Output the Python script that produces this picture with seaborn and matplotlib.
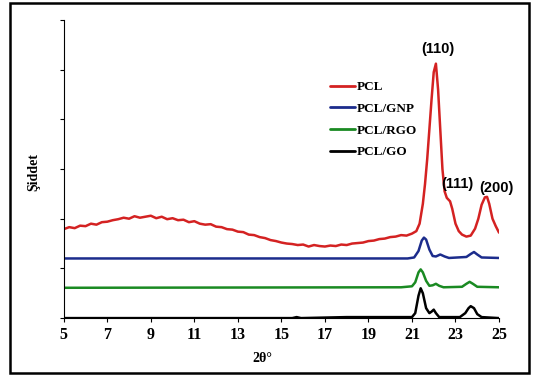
import matplotlib
matplotlib.use("Agg")
import matplotlib.pyplot as plt
from matplotlib.patches import Rectangle
import pandas as pd
import seaborn as sns

# XRD patterns (stacked, arbitrary intensity units)
pcl_x = [5.0, 5.25, 5.5, 5.75, 6.0, 6.25, 6.5, 6.75, 7.0, 7.25, 7.5, 7.75,
         8.0, 8.25, 8.5, 8.75, 9.0, 9.25, 9.5, 9.75, 10.0, 10.25, 10.5, 10.75,
         11.0, 11.25, 11.5, 11.75, 12.0, 12.25, 12.5, 12.75, 13.0, 13.25, 13.5,
         13.75, 14.0, 14.25, 14.5, 14.75, 15.0, 15.25, 15.5, 15.75, 16.0, 16.25,
         16.5, 16.75, 17.0, 17.25, 17.5, 17.75, 18.0, 18.25, 18.5, 18.75, 19.0,
         19.25, 19.5, 19.75, 20.0, 20.25, 20.5, 20.75, 21.0, 21.2, 21.35, 21.5,
         21.6, 21.7, 21.8, 21.9, 22.0, 22.1, 22.2, 22.3, 22.4, 22.5, 22.6, 22.75,
         22.85, 23.0, 23.15, 23.3, 23.5, 23.7, 23.9, 24.05, 24.2, 24.35, 24.45,
         24.55, 24.7, 24.85, 25.0]
pcl_y = [1.79, 1.83, 1.81, 1.86, 1.85, 1.90, 1.88, 1.93, 1.94, 1.97, 1.99, 2.02,
         2.00, 2.05, 2.02, 2.04, 2.06, 2.01, 2.04, 1.99, 2.01, 1.97, 1.98, 1.93,
         1.95, 1.90, 1.88, 1.89, 1.84, 1.83, 1.79, 1.78, 1.74, 1.73, 1.68,
         1.67, 1.63, 1.61, 1.57, 1.55, 1.52, 1.50, 1.49, 1.47, 1.48, 1.44,
         1.47, 1.45, 1.44, 1.46, 1.45, 1.48, 1.47, 1.50, 1.51, 1.52, 1.55,
         1.56, 1.59, 1.60, 1.63, 1.64, 1.67, 1.66, 1.70, 1.75, 1.90, 2.30,
         2.70, 3.20, 3.80, 4.40, 4.95, 5.12, 4.60, 3.80, 3.00, 2.55, 2.42, 2.35,
         2.20, 1.90, 1.75, 1.68, 1.64, 1.66, 1.80, 2.00, 2.28, 2.43, 2.44,
         2.30, 2.00, 1.85, 1.72]

gnp_x = [5.0, 20.8, 21.1, 21.3, 21.45, 21.55, 21.65, 21.8, 21.95, 22.1, 22.3,
         22.5, 22.7, 23.5, 23.7, 23.85, 24.0, 24.2, 25.0]
gnp_y = [1.20, 1.20, 1.22, 1.35, 1.56, 1.62, 1.58, 1.38, 1.25, 1.24, 1.28,
         1.24, 1.21, 1.23, 1.29, 1.33, 1.28, 1.22, 1.21]

rgo_x = [5.0, 20.5, 21.0, 21.15, 21.3, 21.4, 21.5, 21.65, 21.8, 21.95, 22.1,
         22.25, 22.45, 23.3, 23.5, 23.65, 23.8, 24.0, 25.0]
rgo_y = [0.61, 0.62, 0.64, 0.72, 0.92, 0.98, 0.92, 0.75, 0.65, 0.66, 0.69,
         0.65, 0.62, 0.63, 0.69, 0.73, 0.69, 0.63, 0.62]

go_x = [5.0, 15.5, 15.7, 15.9, 18.0, 21.0, 21.15, 21.3, 21.4, 21.5, 21.65,
        21.8, 21.9, 22.0, 22.1, 22.25, 23.2, 23.45, 23.6, 23.7, 23.85, 24.0,
        24.2, 25.0]
go_y = [0.0, 0.0, 0.02, 0.0, 0.02, 0.02, 0.10, 0.45, 0.60, 0.50, 0.20,
        0.10, 0.13, 0.17, 0.10, 0.02, 0.02, 0.10, 0.20, 0.24, 0.20, 0.08,
        0.02, 0.0]

labels = ["PCL", "PCL/GNP", "PCL/RGO", "PCL/GO"]
colors = ["#d42222", "#1c2c8c", "#1a8a22", "#000000"]
peaks = ["(110)", "(111)", "(200)"]
peak_pos = [(22.2, 5.42), (23.07, 2.70), (24.86, 2.62)]

frames = []
for name, xs, ys in zip(labels, [pcl_x, gnp_x, rgo_x, go_x],
                        [pcl_y, gnp_y, rgo_y, go_y]):
    frames.append(pd.DataFrame({"theta": xs, "intensity": ys, "sample": name}))
df = pd.concat(frames, ignore_index=True)

sns.set_style("ticks", {"axes.edgecolor": "black", "text.color": "black",
                        "xtick.color": "black", "ytick.color": "black",
                        "axes.labelcolor": "black"})
serif = ["Liberation Serif", "DejaVu Serif"]

fig = plt.figure(figsize=(5.36, 3.76), dpi=100)
ax = fig.add_axes([0.119, 0.154, 0.812, 0.793])

sns.lineplot(data=df, x="theta", y="intensity", hue="sample",
             hue_order=labels, palette=colors, sort=False,
             linewidth=1.8, ax=ax)

ax.set_xlim(5, 25)
ax.set_ylim(0, 6)
ax.set_xticks(range(5, 26, 2))
ax.set_yticks(range(0, 7))
ax.set_yticklabels([])
ax.tick_params(axis="both", length=3, width=0.8, direction="out", colors="black")
for lab in ax.get_xticklabels():
    lab.set_fontfamily(serif)
    lab.set_fontweight("bold")
    lab.set_fontsize(11.5)
sns.despine(ax=ax)

ax.set_xlabel("2θ°", family=serif, fontweight="bold", fontsize=10, color="black")
ax.xaxis.set_label_coords(0.457, -0.114)
ax.set_ylabel("Şiddet", family=serif, fontweight="bold", fontsize=10, color="black")
ax.yaxis.set_label_coords(-0.055, 0.49)

for txt, (px, py) in zip(peaks, peak_pos):
    ax.text(px, py, txt, ha="center", va="center", fontsize=10.5, color="black",
            fontweight="bold", family=["Liberation Sans", "DejaVu Sans"])

leg = ax.legend(loc="upper left", bbox_to_anchor=(0.612, 0.795), frameon=False,
                handlelength=1.9, handletextpad=0.1, labelspacing=0.72,
                borderpad=0, borderaxespad=0,
                prop={"family": serif, "weight": "bold", "size": 9.5})
for line in leg.get_lines():
    line.set_linewidth(2)
for t in leg.get_texts():
    t.set_color("black")

fig.add_artist(Rectangle((0.019, 0.008), 0.968, 0.984, transform=fig.transFigure,
                         fill=False, edgecolor="black", linewidth=1.8))

fig.savefig("out.png", dpi=100)
